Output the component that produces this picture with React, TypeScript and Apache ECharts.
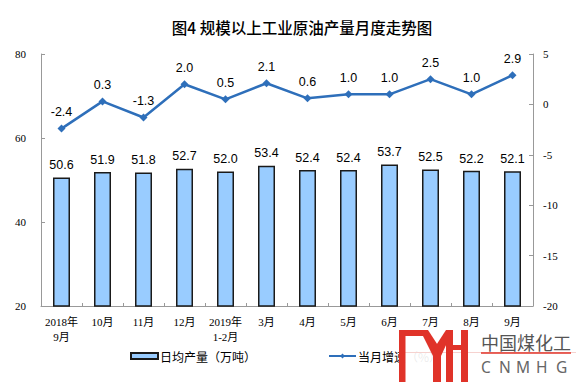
import React, { useEffect, useRef } from "react";
import * as echarts from "echarts";

const categories = ["2018年\n9月", "10月", "11月", "12月", "2019年\n1-2月", "3月", "4月", "5月", "6月", "7月", "8月", "9月"];
const dailyOutput = [50.6, 51.9, 51.8, 52.7, 52.0, 53.4, 52.4, 52.4, 53.7, 52.5, 52.2, 52.1];
const growthRate = [-2.4, 0.3, -1.3, 2.0, 0.5, 2.1, 0.6, 1.0, 1.0, 2.5, 1.0, 2.9];
const leftTicks = { min: 20, max: 80, interval: 20 };
const rightTicks = { min: -20, max: 5, interval: 5 };

const titleText = "图4 规模以上工业原油产量月度走势图";
const barName = "日均产量（万吨）";
const lineName = "当月增速（%）";
const wmText = "中国煤化工";
const wmLetters = ["C", "N", "M", "H", "G"];

const RED = "#e03329";

export default function App() {
  const ref = useRef<HTMLDivElement>(null);
  useEffect(() => {
    if (!ref.current) return;
    const chart = echarts.init(ref.current, null, { renderer: "svg" });
    const serif = "'Liberation Serif', 'Times New Roman', 'Noto Sans CJK SC', serif";
    const sans = "'Liberation Sans', Arial, 'Noto Sans CJK SC', sans-serif";
    const letterX = [481, 499, 516, 536, 556];
    chart.setOption({
      animation: false,
      backgroundColor: "#ffffff",
      title: {
        text: titleText,
        left: 297,
        textAlign: "center",
        top: 14,
        textStyle: { fontFamily: "'Noto Sans CJK SC', sans-serif", fontSize: 15.5, fontWeight: 500, color: "#000" },
      },
      legend: {
        left: 125,
        top: 345,
        itemGap: 72,
        itemWidth: 27,
        itemHeight: 6,
        textStyle: { fontFamily: "'Noto Sans CJK SC', sans-serif", fontSize: 12, color: "#000", padding: [0, 0, 0, -3] },
        data: [
          { name: barName, icon: "rect" },
          { name: lineName },
        ],
      },
      grid: { left: 41, right: 43, top: 54, bottom: 78 },
      xAxis: {
        type: "category",
        data: categories,
        axisLine: { onZero: false, lineStyle: { color: "#999", width: 1 } },
        axisTick: { show: true, inside: true, length: 3, lineStyle: { color: "#999" } },
        axisLabel: { interval: 0, fontFamily: serif, fontSize: 11, color: "#000", margin: 8, lineHeight: 15 },
      },
      yAxis: [
        {
          type: "value",
          ...leftTicks,
          splitLine: { show: false },
          axisLine: { show: true, lineStyle: { color: "#999" } },
          axisTick: { show: true, inside: true, length: 4, lineStyle: { color: "#999" } },
          axisLabel: { fontFamily: serif, fontSize: 11, color: "#000", margin: 15 },
        },
        {
          type: "value",
          ...rightTicks,
          splitLine: { show: false },
          axisLine: { show: true, lineStyle: { color: "#999" } },
          axisTick: { show: true, inside: true, length: 4, lineStyle: { color: "#999" } },
          axisLabel: { fontFamily: serif, fontSize: 11, color: "#000", margin: 10 },
        },
      ],
      series: [
        {
          name: barName,
          type: "bar",
          data: dailyOutput,
          barWidth: 17,
          itemStyle: { color: "#99ccff", borderColor: "#1a1a1a", borderWidth: 1.5 },
          label: {
            show: true,
            position: "top",
            distance: 6,
            fontFamily: sans,
            fontSize: 12.5,
            color: "#000",
            formatter: (p: any) => p.value.toFixed(1),
          },
        },
        {
          name: lineName,
          type: "line",
          yAxisIndex: 1,
          data: growthRate,
          symbol: "diamond",
          symbolSize: 8,
          lineStyle: { color: "#2e6fba", width: 2.5 },
          itemStyle: { color: "#2e6fba" },
          label: {
            show: true,
            position: "top",
            distance: 6,
            fontFamily: sans,
            fontSize: 12.5,
            color: "#000",
            formatter: (p: any) => p.value.toFixed(1),
          },
        },
      ],
      graphic: [
        { type: "rect", shape: { x: 399, y: 327, width: 177, height: 57 }, style: { fill: "#fff", opacity: 0.92 }, z: 100 },
        { type: "line", shape: { x1: 399, y1: 352.5, x2: 576, y2: 352.5 }, style: { stroke: "#f6d2cf", lineWidth: 1 }, z: 101 },
        { type: "line", shape: { x1: 481, y1: 353, x2: 571, y2: 353 }, style: { stroke: RED, lineWidth: 1.3 }, z: 102 },
        { type: "rect", shape: { x: 399, y: 330, width: 6.5, height: 52 }, style: { fill: RED }, z: 102 },
        { type: "rect", shape: { x: 399, y: 330, width: 28, height: 6 }, style: { fill: RED }, z: 102 },
        { type: "polygon", shape: { points: [[420, 330], [428, 330], [441, 350], [441, 356], [433, 356]] }, style: { fill: RED }, z: 102 },
        { type: "polygon", shape: { points: [[446, 330], [453, 330], [441, 356], [433, 356], [433, 350]] }, style: { fill: RED }, z: 102 },
        { type: "rect", shape: { x: 433, y: 350, width: 8, height: 32 }, style: { fill: RED }, z: 102 },
        { type: "rect", shape: { x: 446, y: 330, width: 7, height: 52 }, style: { fill: RED }, z: 102 },
        { type: "rect", shape: { x: 461, y: 330, width: 7, height: 52 }, style: { fill: RED }, z: 102 },
        { type: "rect", shape: { x: 446, y: 345, width: 22, height: 5 }, style: { fill: RED }, z: 102 },
        {
          type: "text",
          x: 481,
          y: 342,
          style: { text: wmText, fill: "#555", fontSize: 18, fontFamily: "'Noto Sans CJK SC', sans-serif", verticalAlign: "middle" },
          z: 102,
        },
        ...wmLetters.map((ch, i) => ({
          type: "text",
          x: letterX[i],
          y: 367,
          style: { text: ch, fill: "#666", fontSize: 15.5, fontFamily: "'Noto Sans', 'Liberation Sans', sans-serif", verticalAlign: "middle" },
          z: 102,
        })),
      ],
    });
    return () => chart.dispose();
  }, []);
  return <div ref={ref} style={{ width: 576, height: 384, position: "absolute", left: 0, top: 0 }} />;
}
